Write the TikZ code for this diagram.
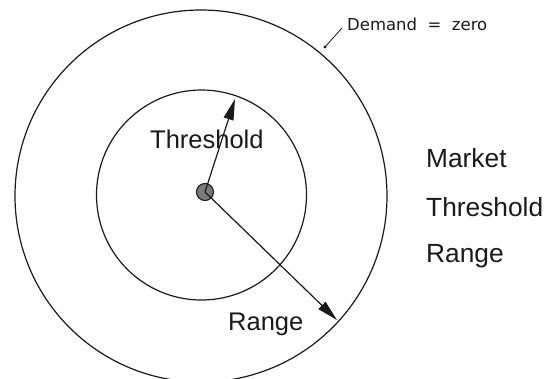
\documentclass[tikz,border=0pt]{standalone}
\usepackage{fontspec}
\setmainfont{Liberation Sans}
\newfontfamily\demfont{DejaVu Sans}
\usetikzlibrary{arrows.meta}
\definecolor{dotgray}{HTML}{7A7A7A}
\definecolor{inkblack}{HTML}{1A1A1A}
\tikzset{
  ring/.style={circle, draw=inkblack, line width=1.2pt, inner sep=0pt},
  bigtext/.style={inner sep=0pt, anchor=base west, font=\fontsize{25.5}{30}\selectfont, text=inkblack},
  sidetext/.style={inner sep=0pt, anchor=base west, font=\fontsize{26.3}{30}\selectfont, text=inkblack},
  smalltext/.style={inner sep=0pt, anchor=base west, font=\demfont\fontsize{16.5}{20}\selectfont, text=inkblack},
  radius arrow/.style={draw=inkblack, line width=1.2pt, -{Triangle[length=21pt, width=10pt]}},
  centredot/.style={circle, draw=inkblack, fill=dotgray, line width=1.1pt, minimum size=17pt, inner sep=0pt},
}
\begin{document}
\begin{tikzpicture}[x=1pt, y=-1pt]
  \clip (0,0) rectangle (556,378);
  \fill[white] (0,0) rectangle (556,378);
  % circles
  \node[ring, minimum size=372pt] (outer) at (201,196) {};
  \node[ring, minimum size=210pt] (inner) at (201.5,195) {};
  % centre dot
  \node[centredot] (c) at (205,192) {};
  % radii
  \coordinate (ttip) at (235,99);
  \coordinate (rtip) at (337,320);
  \draw[radius arrow] (c.center) -- (ttip);
  \draw[radius arrow] (c.center) -- (rtip);
  % labels inside
  \node[bigtext] (thr) at (150,148) {Threshold};
  \node[bigtext] (rng) at (228,330) {Range};
  % labels at the right
  \node[sidetext] (lmarket) at (426,167) {Market};
  \node[sidetext] (lthr) at (426,216) {Threshold};
  \node[sidetext] (lrng) at (426,262) {Range};
  % demand = zero
  \node[smalltext] (dem) at (347,30) {Demand\ \ =\ \ zero};
  \coordinate (ld) at (325,47);
  \coordinate (lu) at (342,28);
  \draw[inkblack, line width=0.8pt] (ld) -- (lu);
  \fill[inkblack] (ld) circle (1.6pt);
\end{tikzpicture}
\end{document}
